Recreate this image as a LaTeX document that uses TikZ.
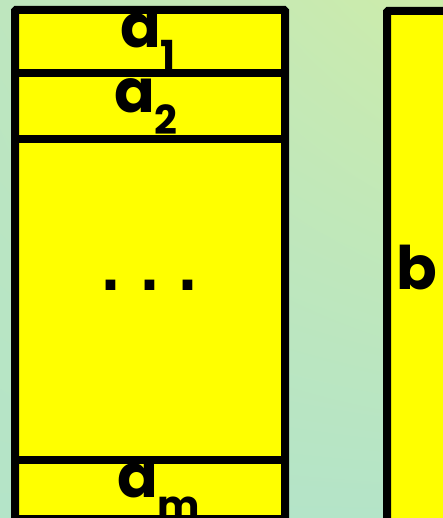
\documentclass[tikz,border=0pt]{standalone}
\usepackage{fontspec}
\setmainfont{Poppins}
\newfontfamily\dotfont{DejaVu Sans}
\usetikzlibrary{positioning,shadings}
\definecolor{MintGreen}{RGB}{180,228,200}
\definecolor{SageGreen}{RGB}{190,230,190}
\definecolor{LeafGreen}{RGB}{205,236,170}
\definecolor{CellYellow}{RGB}{255,255,0}

\begin{document}
\begin{tikzpicture}[x=1pt,y=-1pt,
    cell/.style={draw,fill=CellYellow,line width=8pt,rounded corners=1pt},
    rule/.style={line width=8pt},
    lbl/.style={anchor=base west,inner sep=0pt,font=\fontsize{60}{60}\selectfont\bfseries},
    sub/.style={font=\fontsize{40}{40}\selectfont}]
  \useasboundingbox (0,0) rectangle (443,518);
  \clip (0,0) rectangle (443,518);
  \shade[upper left=SageGreen,upper right=LeafGreen,lower left=MintGreen,lower right=MintGreen]
    (0,0) rectangle (443,518);
  \draw[cell] (15,10) rectangle (285,519);
  \draw[cell] (387,11) rectangle (470,540);
  \draw[rule] (15,73) -- (285,73);
  \draw[rule] (15,139) -- (285,139);
  \draw[rule] (15,460) -- (285,460);
  \node[lbl] (a1) at (120,48) {a\raisebox{-22pt}{\fontsize{40}{40}\selectfont 1}};
  \node[lbl] (a2) at (114,113) {a\raisebox{-22pt}{\fontsize{40}{40}\selectfont 2}};
  \node[lbl] (am) at (117,497) {a\raisebox{-22pt}{\fontsize{40}{40}\selectfont m}};
  \node[lbl] (b) at (396,289) {b};
  \node[anchor=base,inner sep=0pt,font=\dotfont\bfseries\fontsize{55}{55}\selectfont] (dots)
    at (149.5,290) {.\hspace{17.5pt}.\hspace{17.5pt}.};
\end{tikzpicture}
\end{document}
